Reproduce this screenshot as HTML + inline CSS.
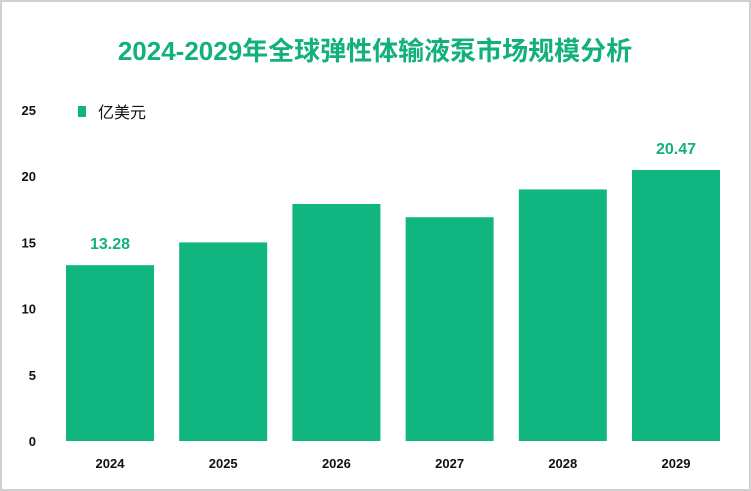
<!DOCTYPE html>
<html><head><meta charset="utf-8"><style>
body{margin:0;background:#fff}
#c{position:relative;width:751px;height:491px;overflow:hidden}
svg text{font-family:"Liberation Sans","Noto Sans CJK SC",sans-serif}
</style></head><body>
<div id="c">
<svg id="s" width="751" height="491">
<rect x="1" y="1" width="749" height="489" fill="#fff" stroke="#d0d0d0" stroke-width="2"/>
<text x="375" y="60" text-anchor="middle" font-size="26" font-weight="bold" fill="#12b07c">2024-2029年全球弹性体输液泵市场规模分析</text>
<rect x="78" y="106" width="8" height="11" fill="#10b47f"/>
<text x="98" y="118" font-size="16" fill="#111">亿美元</text>
<g id="axes"></g><g id="bars"></g>
</svg>
</div>
<script>
const categories=["2024","2025","2026","2027","2028","2029"];
const values=[13.28,15.0,17.9,16.9,19.0,20.47];
const labels=["13.28","","","","","20.47"];
const ticks=[0,5,10,15,20,25];
const ns="http://www.w3.org/2000/svg";
const y0=441,yTop=110,vmax=25;
function yScale(v){return y0-(v/vmax)*(y0-yTop);}
const left=53,step=113.2,barW=88;
function xScale(i){return left+13+i*step;}
const ax=document.getElementById('axes'),bg=document.getElementById('bars');
function mk(t,a,p){const e=document.createElementNS(ns,t);for(const k in a)e.setAttribute(k,a[k]);p.appendChild(e);return e;}
ticks.forEach(t=>{
 const e=mk('text',{x:36,y:yScale(t)+5,'text-anchor':'end','font-size':13,'font-weight':'bold',fill:'#111'},ax);
 e.textContent=t;
 
 
});
categories.forEach((c,i)=>{
 const x=xScale(i),y=yScale(values[i]);
 const r=mk('rect',{x:x,y:y,width:barW,height:y0-y,fill:'#10b57f'},bg);
 
 
 const t=mk('text',{x:x+barW/2,y:468,'text-anchor':'middle','font-size':13,'font-weight':'bold',fill:'#111'},ax);
 t.textContent=c;
 
 
 if(labels[i]){
  const l=mk('text',{x:x+barW/2,y:y-16,'text-anchor':'middle','font-size':16,'font-weight':'bold',fill:'#12b07c'},bg);
  l.textContent=labels[i];
  
  
 }
});
</script>
</body></html>
